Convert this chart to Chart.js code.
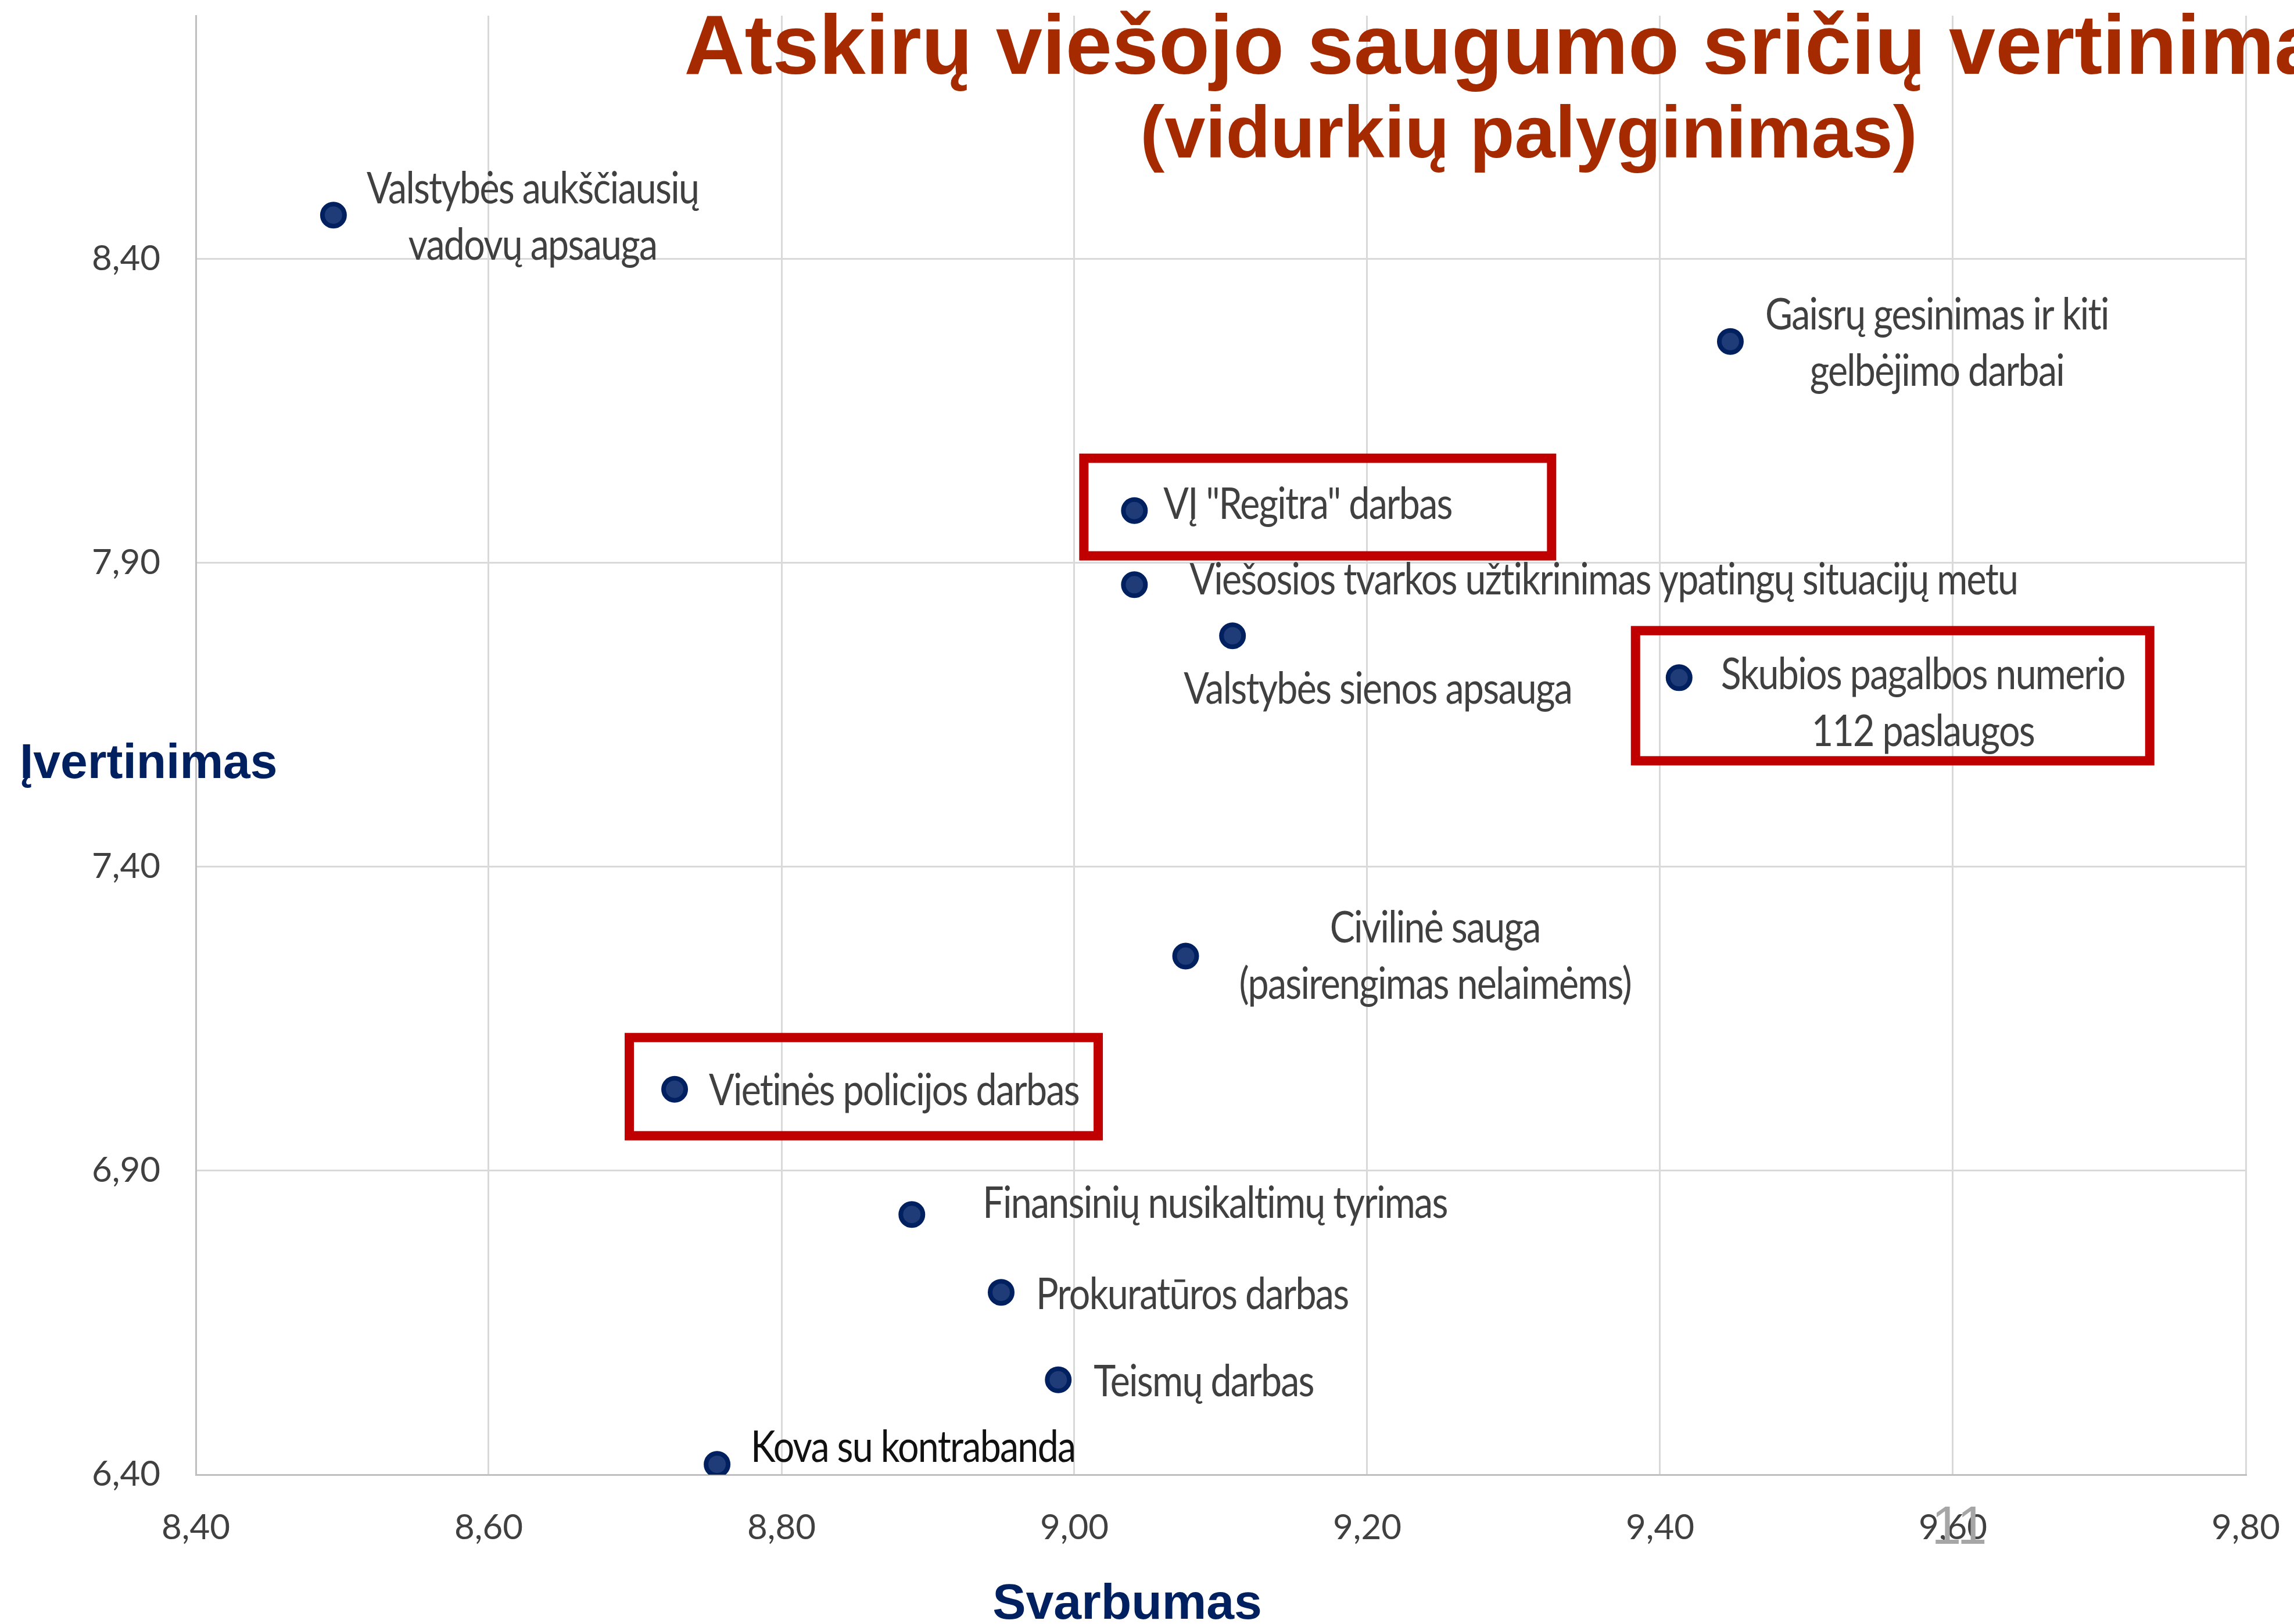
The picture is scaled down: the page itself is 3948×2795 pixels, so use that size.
<!DOCTYPE html>
<html lang="lt">
<head>
<meta charset="utf-8">
<title>Atskirų viešojo saugumo sričių vertinimas</title>
<script src="https://cdn.jsdelivr.net/npm/chart.js@4.4.1/dist/chart.umd.min.js"></script>
<style>
  html, body { margin: 0; padding: 0; background: #ffffff; }
  canvas { display: block; }
</style>
</head>
<body>
<canvas id="c" width="3948" height="2795" style="width:3948px;height:2795px"></canvas>
<script>
// ---------- DATA ----------
const titleLines = ['Atskirų viešojo saugumo sričių vertinimas', '(vidurkių palyginimas)'];
const xAxisTitle = 'Svarbumas';
const yAxisTitle = 'Įvertinimas';
const slideNumber = '11';

const categories = [
  ['Valstybės aukščiausių', 'vadovų apsauga'],
  ['Gaisrų gesinimas ir kiti', 'gelbėjimo darbai'],
  ['VĮ "Regitra" darbas'],
  ['Viešosios tvarkos užtikrinimas ypatingų situacijų metu'],
  ['Valstybės sienos apsauga'],
  ['Skubios pagalbos numerio', '112 paslaugos'],
  ['Civilinė sauga', '(pasirengimas nelaimėms)'],
  ['Vietinės policijos darbas'],
  ['Finansinių nusikaltimų tyrimas'],
  ['Prokuratūros darbas'],
  ['Teismų darbas'],
  ['Kova su kontrabanda']
];
const svarbumas   = [8.494, 9.448, 9.041, 9.041, 9.108, 9.413, 9.076, 8.727, 8.889, 8.950, 8.989, 8.756];
const ivertinimas = [8.472, 8.264, 7.986, 7.864, 7.780, 7.711, 7.253, 7.034, 6.828, 6.700, 6.556, 6.417];
const highlighted = [2, 5, 7];

const xRange = [8.4, 9.8];
const yRange = [6.4, 8.8];
const xTickValues = [8.4, 8.6, 8.8, 9.0, 9.2, 9.4, 9.6, 9.8];
const xTickLabels = ['8,40', '8,60', '8,80', '9,00', '9,20', '9,40', '9,60', '9,80'];
const yTickValues = [6.4, 6.9, 7.4, 7.9, 8.4];
const yTickLabels = ['6,40', '6,90', '7,40', '7,90', '8,40'];

// ---------- STYLE ----------
const NAVY = '#002060';
const TITLE_RED = '#A52A00';
const LABEL_COLOR = '#404040';
const BOX_RED = '#C00000';
const LABEL_FONT_SIZE = 75;
const LABEL_LETTER_SPACING = '-2px';
const LABEL_REF_TEXT = 'Viešosios tvarkos užtikrinimas ypatingų situacijų metu';
const LABEL_REF_WIDTH = 1425;
// gap: block left relative to point; base: line baselines relative to point
const labelLayout = [
  { gap: 57,  base: [-20, 77] },
  { gap: 60,  base: [-21, 76] },
  { gap: 50,  base: [14] },
  { gap: 95,  base: [17] },
  { gap: -84, base: [117] },
  { gap: 72,  base: [20, 118] },
  { gap: 92,  base: [-24, 73] },
  { gap: 59,  base: [27] },
  { gap: 122, base: [6] },
  { gap: 60,  base: [29] },
  { gap: 61,  base: [28] },
  { gap: 58,  base: [-4], color: '#111111' }
];
// highlight boxes, outer edges relative to the point
const boxLayout = {
  2: { l: -95, t: -98, r: 726, b: 86 },
  5: { l: -83, t: -89, r: 818, b: 151 },
  7: { l: -86, t: -97, r: 737, b: 88 }
};
const BOX_LINE = 16;

function drawScaledText(ctx, text, x, y, sx) {
  ctx.save();
  ctx.translate(x, y);
  ctx.scale(sx, 1);
  ctx.fillText(text, 0, 0);
  ctx.restore();
}

const overlayPlugin = {
  id: 'overlay',
  beforeDraw(chart) {
    const ctx = chart.ctx;
    ctx.save();
    ctx.fillStyle = '#ffffff';
    ctx.fillRect(0, 0, chart.width, chart.height);
    ctx.restore();
  },
  afterDatasetsDraw(chart) {
    const ctx = chart.ctx;
    const meta = chart.getDatasetMeta(0);
    ctx.save();
    ctx.font = LABEL_FONT_SIZE + 'px Lato';
    if ('letterSpacing' in ctx) ctx.letterSpacing = LABEL_LETTER_SPACING;
    ctx.textAlign = 'left';
    ctx.textBaseline = 'alphabetic';
    const sx = LABEL_REF_WIDTH / ctx.measureText(LABEL_REF_TEXT).width;
    categories.forEach((lines, i) => {
      const el = meta.data[i];
      const lay = labelLayout[i];
      const widths = lines.map(t => ctx.measureText(t).width * sx);
      const blockW = Math.max(...widths);
      const left = el.x + lay.gap;
      ctx.fillStyle = lay.color || LABEL_COLOR;
      lines.forEach((t, j) => {
        drawScaledText(ctx, t, left + (blockW - widths[j]) / 2, el.y + lay.base[j], sx);
      });
    });
    if ('letterSpacing' in ctx) ctx.letterSpacing = '0px';
    // highlight boxes
    ctx.strokeStyle = BOX_RED;
    ctx.lineWidth = BOX_LINE;
    highlighted.forEach(i => {
      const el = meta.data[i];
      const b = boxLayout[i];
      const h = BOX_LINE / 2;
      ctx.strokeRect(el.x + b.l + h, el.y + b.t + h, (b.r - b.l) - BOX_LINE, (b.b - b.t) - BOX_LINE);
    });
    ctx.restore();
  },
  afterDraw(chart) {
    const ctx = chart.ctx;
    ctx.save();
    ctx.textAlign = 'center';
    ctx.textBaseline = 'alphabetic';
    ctx.fillStyle = TITLE_RED;
    ctx.font = 'bold 144px "Liberation Sans", Arial, sans-serif';
    ctx.fillText(titleLines[0], 2626, 127);
    ctx.font = 'bold 126px "Liberation Sans", Arial, sans-serif';
    ctx.fillText(titleLines[1], 2631, 271);

    ctx.fillStyle = NAVY;
    ctx.font = 'bold 86px "Liberation Sans", Arial, sans-serif';
    ctx.fillText(xAxisTitle, 1940, 2786);
    ctx.textAlign = 'left';
    ctx.font = 'bold 84px "Liberation Sans", Arial, sans-serif';
    ctx.fillText(yAxisTitle, 34, 1339);

    ctx.textAlign = 'center';
    ctx.fillStyle = '#A6A6A6';
    ctx.font = '92px "Liberation Sans", Arial, sans-serif';
    ctx.fillText(slideNumber, 3372, 2657);
    ctx.restore();
  }
};

const ctx = document.getElementById('c').getContext('2d');
new Chart(ctx, {
  type: 'scatter',
  data: {
    datasets: [{
      data: svarbumas.map((x, i) => ({ x: x, y: ivertinimas[i] })),
      pointRadius: 19,
      pointHoverRadius: 19,
      pointBackgroundColor: '#1f3c78',
      pointBorderColor: NAVY,
      pointBorderWidth: 8
    }]
  },
  options: {
    responsive: false,
    maintainAspectRatio: false,
    animation: false,
    devicePixelRatio: 1,
    events: [],
    layout: { padding: { left: 0, top: 19, right: 83, bottom: 0 } },
    plugins: {
      legend: { display: false },
      tooltip: { enabled: false },
      title: { display: false }
    },
    scales: {
      x: {
        type: 'linear',
        min: xRange[0],
        max: xRange[1],
        afterBuildTicks: s => { s.ticks = xTickValues.map(v => ({ value: v })); },
        afterFit: s => { s.height = 257; s.paddingLeft = 0; s.paddingRight = 0; },
        ticks: {
          callback: (v, i) => xTickLabels[i],
          font: { family: 'Lato', size: 60 },
          color: '#404040',
          padding: 56,
          maxRotation: 0,
          autoSkip: false
        },
        grid: { color: '#d9d9d9', lineWidth: 3, drawTicks: false },
        border: { color: '#bfbfbf', width: 3 }
      },
      y: {
        type: 'linear',
        min: yRange[0],
        max: yRange[1],
        afterBuildTicks: s => { s.ticks = yTickValues.map(v => ({ value: v })); },
        afterFit: s => { s.width = 337; s.paddingTop = 0; s.paddingBottom = 0; },
        ticks: {
          callback: (v, i) => yTickLabels[i],
          font: { family: 'Lato', size: 60 },
          color: '#404040',
          padding: 61,
          autoSkip: false
        },
        grid: { color: '#d9d9d9', lineWidth: 3, drawTicks: false },
        border: { color: '#bfbfbf', width: 3 }
      }
    }
  },
  plugins: [overlayPlugin]
});
</script>
</body>
</html>
